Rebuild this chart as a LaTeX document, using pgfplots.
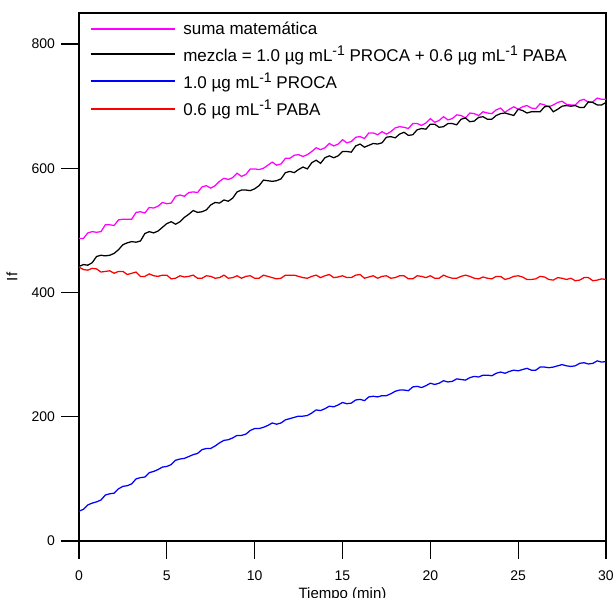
\documentclass[border=0pt]{standalone}
\usepackage{fontspec}
\setmainfont{Liberation Sans}
\usepackage{pgfplots}
\usepackage{pgfplotstable}
\pgfplotsset{compat=1.18}
\definecolor{mag}{RGB}{255,0,255}
\definecolor{blu}{RGB}{0,0,255}
\definecolor{rd}{RGB}{255,0,0}
\pgfplotstableread{
t suma mezcla proca paba
0 487 442 48 441
0.25 487 445 51 437
0.5 496 444 58 436
0.75 498 448 61 439
1 497 458 63 438
1.25 498 460 66 433
1.5 509 459 74 434
1.75 509 460 76 435
2 508 463 77 431
2.25 517 469 84 434
2.5 518 477 88 434
2.75 518 480 89 429
3 518 482 92 431
3.25 529 481 100 433
3.5 530 483 102 426
3.75 528 495 103 426
4 537 498 110 430
4.25 536 496 112 427
4.5 539 499 115 426
4.75 545 505 119 428
5 543 511 120 428
5.25 544 514 123 422
5.5 555 510 130 423
5.75 557 514 132 427
6 555 521 133 425
6.25 561 526 136 426
6.5 562 532 139 428
6.75 561 529 141 423
7 570 530 147 423
7.25 572 533 149 427
7.5 568 541 149 426
7.75 572 545 153 423
8 579 544 158 424
8.25 584 549 162 428
8.5 582 547 163 423
8.75 585 552 166 424
9 592 562 170 427
9.25 587 565 170 423
9.5 590 565 172 426
9.75 599 564 178 427
10 599 567 181 423
10.25 598 572 181 423
10.5 600 581 183 428
10.75 605 580 186 426
11 610 579 190 424
11.25 605 580 188 422
11.5 607 583 190 423
11.75 616 593 195 428
12 616 595 197 428
12.25 621 593 199 428
12.5 622 598 201 426
12.75 619 602 201 424
13 622 599 202 423
13.25 627 609 206 426
13.5 633 613 211 428
13.75 630 608 210 424
14 633 617 213 427
14.25 640 620 217 429
14.5 636 617 216 424
14.75 639 620 219 425
15 646 627 223 427
15.25 641 627 221 424
15.5 643 626 222 424
15.75 650 636 227 428
16 651 639 228 429
16.25 648 634 226 423
16.5 657 637 232 425
16.75 657 640 233 427
17 654 639 232 423
17.25 659 641 234 426
17.5 655 650 234 427
17.75 659 651 237 423
18 665 649 241 424
18.25 667 655 243 427
18.5 666 658 243 427
18.75 664 653 242 422
19 672 654 248 422
19.25 672 662 249 427
19.5 669 664 247 426
19.75 673 663 250 424
20 680 671 254 427
20.25 674 671 252 423
20.5 677 666 254 423
20.75 683 667 258 428
21 678 672 256 425
21.25 680 672 257 423
21.5 686 670 261 423
21.75 685 679 260 426
22 681 681 259 428
22.25 689 675 263 426
22.5 688 676 265 423
22.75 685 682 264 422
23 691 683 267 425
23.25 689 679 267 423
23.5 688 679 266 422
23.75 694 685 270 426
24 697 688 272 426
24.25 690 689 270 421
24.5 695 687 273 423
24.75 699 685 275 426
25 695 695 274 427
25.25 699 693 276 425
25.5 701 689 278 421
25.75 697 691 275 421
26 696 691 275 422
26.25 704 691 280 426
26.5 702 699 280 425
26.75 699 700 279 421
27 702 691 280 420
27.25 706 695 282 424
27.5 708 700 284 423
27.75 703 701 282 421
28 702 700 281 423
28.25 702 701 282 419
28.5 709 698 286 420
28.75 711 698 287 424
29 706 707 285 424
29.25 707 706 286 419
29.5 713 702 290 420
29.75 711 702 288 422
30 711 706 289 421
}\datatable
\newcommand{\ssup}[1]{\raisebox{0.6ex}{\fontsize{14}{15}\selectfont #1}}
\begin{document}
\begin{tikzpicture}
\begin{axis}[
  scale only axis,
  width=527pt, height=528pt,
  xmin=0, xmax=30, ymin=0, ymax=850,
  xtick={0,5,...,30}, ytick={0,200,...,800},
  tick pos=left,
  tick align=outside,
  major tick length=17.5pt,
  every tick/.style={black, line width=1.2pt},
  axis line style={line width=1.1pt},
  /pgf/number format/assume math mode=true,
  tick label style={font=\fontsize{14}{16}\selectfont},
  yticklabel style={xshift=-3pt},
  xticklabel style={yshift=-9pt},
  xlabel={Tiempo (min)}, ylabel={If},
  label style={font=\fontsize{15}{17}\selectfont},
  xlabel style={at={(axis description cs:0.5,-0.108)}, anchor=base},
  ylabel style={at={(axis description cs:-0.127,0.5)}, anchor=center},
  legend cell align=left,
  legend style={at={(axis description cs:0.0142,0.9915)}, anchor=north west,
    draw=none, fill=none, font=\fontsize{17}{20}\selectfont,
    row sep=6.5pt},
  legend image code/.code={\draw[#1, line width=2pt] (0pt,0pt) -- (84pt,0pt); \path (90pt,0pt);},
  every axis plot/.append style={line width=1.25pt},
]
\addplot[draw=mag, no markers] table[x=t, y=suma] {\datatable};
\addlegendentry{suma matemática}
\addplot[draw=black, no markers] table[x=t, y=mezcla] {\datatable};
\addlegendentry{mezcla = 1.0 µg mL\ssup{-1} PROCA + 0.6 µg mL\ssup{-1} PABA}
\addplot[draw=blu, no markers] table[x=t, y=proca] {\datatable};
\addlegendentry{1.0 µg mL\ssup{-1} PROCA}
\addplot[draw=rd, no markers] table[x=t, y=paba] {\datatable};
\addlegendentry{0.6 µg mL\ssup{-1} PABA}
\end{axis}
\pgfresetboundingbox
\path[use as bounding box] (-79pt,-56pt) rectangle (534pt,541pt);
\end{tikzpicture}
\end{document}
